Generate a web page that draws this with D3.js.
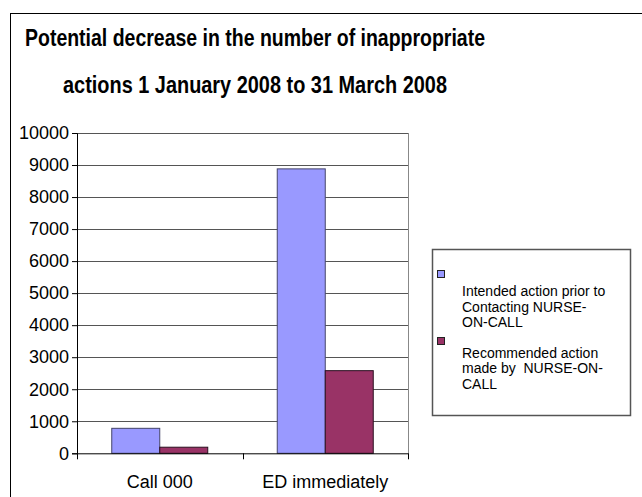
<!DOCTYPE html>
<html>
<head>
<meta charset="utf-8">
<script src="https://cdn.jsdelivr.net/npm/d3@7"></script>
<style>
  html, body { margin: 0; padding: 0; background: #fff; }
  svg { display: block; font-family: "Liberation Sans", Arial, sans-serif; }
</style>
</head>
<body>
<svg id="chart" width="642" height="497"></svg>
<script>
const titleLines = ["Potential decrease in the number of inappropriate", "actions 1 January 2008 to 31 March 2008"];
const categories = ["Call 000", "ED immediately"];
const seriesNames = ["Intended action prior to Contacting NURSE-ON-CALL", "Recommended action made by  NURSE-ON-CALL"];
const intended = [780, 8880];
const recommended = [190, 2580];
const yTicks = [0, 1000, 2000, 3000, 4000, 5000, 6000, 7000, 8000, 9000, 10000];
const legendLines = [
  ["Intended action prior to", "Contacting NURSE-", "ON-CALL"],
  ["Recommended action", "made by  NURSE-ON-", "CALL"]
];
const colors = ["#9999FF", "#993366"];

(function () {
const svg = d3.select("#chart");

// outer frame
svg.append("rect").attr("x", 10.5).attr("y", 13.5).attr("width", 640).attr("height", 500)
  .attr("fill", "none").attr("stroke", "#000").attr("stroke-width", 1);

// title
const titleBaselines = [46, 93];
const titleWidths = [460, 384];
titleLines.forEach((t, i) => {
  svg.append("text").attr("x", 255).attr("y", titleBaselines[i])
    .attr("text-anchor", "middle").attr("font-weight", "bold").attr("font-size", 24)
    .attr("textLength", titleWidths[i]).attr("lengthAdjust", "spacingAndGlyphs")
    .attr("fill", "#000").text(t);
});

const pL = 77, pR = 408, pT = 133, pB = 453.3;
const y = d3.scaleLinear().domain([0, 10000]).range([pB, pT]);
const x = d3.scaleBand().domain(categories).range([pL, pR]).padding(0);
const x1 = d3.scaleBand().domain([0, 1]).range([0, x.bandwidth()]).paddingInner(0).paddingOuter(0.724);

// gridlines
svg.append("g").selectAll("line").data(yTicks.filter(d => d > 0)).join("line")
  .attr("x1", pL).attr("x2", pR)
  .attr("y1", d => Math.round(y(d)) + 0.5).attr("y2", d => Math.round(y(d)) + 0.5)
  .attr("stroke", "#555").attr("stroke-width", 1);

// plot right border
svg.append("line").attr("x1", pR + 0.5).attr("x2", pR + 0.5).attr("y1", pT).attr("y2", pB)
  .attr("stroke", "#888").attr("stroke-width", 1);

// bars
const data = categories.map((c, i) => ({ cat: c, vals: [intended[i], recommended[i]] }));
const groups = svg.append("g").selectAll("g").data(data).join("g")
  .attr("transform", d => `translate(${x(d.cat)},0)`);
groups.selectAll("rect").data(d => d.vals.map((v, k) => ({ v, k }))).join("rect")
  .attr("x", d => x1(d.k))
  .attr("y", d => y(d.v))
  .attr("width", x1.bandwidth())
  .attr("height", d => pB - y(d.v))
  .attr("fill", d => colors[d.k])
  .attr("stroke", d => d.k === 0 ? "#44446a" : "#2a1020")
  .attr("stroke-width", 1);

// y axis
const yAxis = d3.axisLeft(y).tickValues(yTicks).tickSize(5).tickPadding(3).tickFormat(d3.format("d"));
const gy = svg.append("g").attr("transform", `translate(${pL},0)`).call(yAxis);
gy.select(".domain").attr("stroke", "#000");
gy.selectAll(".tick line").attr("stroke", "#000");
gy.selectAll("text").attr("font-size", 18).attr("fill", "#000")
  .attr("font-family", "'Liberation Sans', Arial, sans-serif");

// x axis
const xAxis = d3.axisBottom(x).tickSize(0).tickPadding(0);
const gx = svg.append("g").attr("transform", `translate(0,${pB})`).call(xAxis);
gx.select(".domain").attr("stroke", "#000");
gx.selectAll("text").attr("font-size", 18).attr("fill", "#000").attr("dy", null).attr("y", 35)
  .attr("font-family", "'Liberation Sans', Arial, sans-serif");
// category boundary ticks
const bounds = [pL, x(categories[1]), pR];
svg.append("g").selectAll("line").data(bounds).join("line")
  .attr("x1", d => Math.round(d) + 0.5).attr("x2", d => Math.round(d) + 0.5)
  .attr("y1", pB).attr("y2", pB + 6)
  .attr("stroke", "#000");

// legend
svg.append("rect").attr("x", 432.5).attr("y", 249.5).attr("width", 198).attr("height", 166)
  .attr("fill", "#fff").attr("stroke", "#555").attr("stroke-width", 1.5);
const legendSwatchY = [270, 337];
const legendBase = [295.8, 357.6];
legendLines.forEach((lines, i) => {
  svg.append("rect").attr("x", 437.5).attr("y", legendSwatchY[i] + 0.5).attr("width", 7).attr("height", 7)
    .attr("fill", colors[i]).attr("stroke", "#222").attr("stroke-width", 1);
  const t = svg.append("text").attr("x", 462).attr("y", legendBase[i])
    .attr("font-size", 14).attr("fill", "#000").style("white-space", "pre");
  lines.forEach((l, j) => {
    t.append("tspan").attr("x", 462).attr("dy", j === 0 ? 0 : 15.7).text(l);
  });
});
})();
</script>
</body>
</html>
